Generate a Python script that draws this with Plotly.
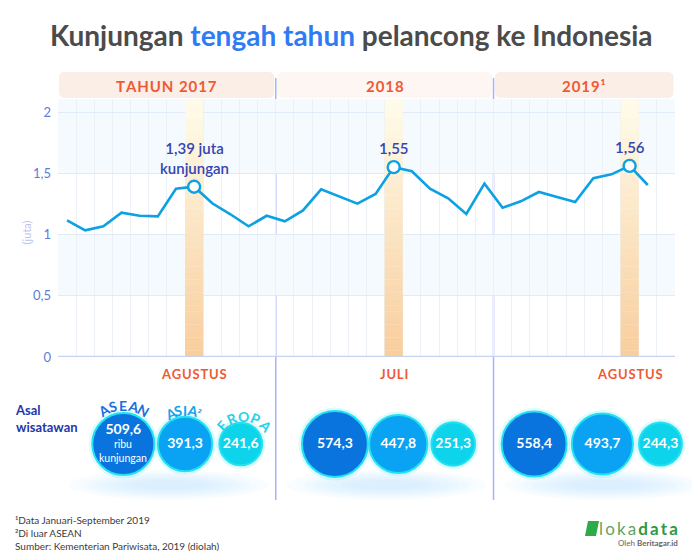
import plotly.graph_objects as go
import math

# page body has an 8px margin: size the figure so it fits the window, and map
# reference pixel positions through that offset
OX, OY = 8, 8
W, H = 684, 543

# ---------------- data ----------------
year_titles = ["TAHUN 2017", "2018", "2019¹"]
visits_2017 = [1.116, 1.034, 1.067, 1.178, 1.153, 1.148, 1.374, 1.39, 1.255, 1.165, 1.067, 1.153]
visits_2018 = [1.108, 1.197, 1.369, 1.309, 1.252, 1.331, 1.55, 1.516, 1.374, 1.295, 1.167, 1.415]
visits_2019 = [1.219, 1.271, 1.347, 1.306, 1.265, 1.459, 1.491, 1.56, 1.404]
highlight_year = [0, 1, 2]          # index into years
highlight_month = [8, 7, 8]         # month number (Agustus, Juli, Agustus)
highlight_names = ["AGUSTUS", "JULI", "AGUSTUS"]
highlight_labels = ["1,39 juta<br>kunjungan", "1,55", "1,56"]
regions = ["ASEAN", "ASIA²", "EROPA"]
asean = [509.6, 574.3, 558.4]
asia = [391.3, 447.8, 493.7]
eropa = [241.6, 251.3, 244.3]
y_tickvals = [0, 0.5, 1, 1.5, 2]
y_ticktext = ["0", "0,5", "1", "1,5", "2"]

# ---------------- helpers ----------------
def px(x):
    return (x - OX) / W

def py(y):
    return 1 - (y - OY) / H

def spaced(s, sep="\u200a"):
    return sep.join(list(s))

def fmt(v):
    return ("%.1f" % v).replace(".", ",")

visits = visits_2017 + visits_2018 + visits_2019
months_x = list(range(len(visits)))
hi_x = [12 * y + (m - 1) for y, m in zip(highlight_year, highlight_month)]
hi_y = [visits[i] for i in hi_x]

PLOT_L, PLOT_R = 58, 675
Y0_PX, YTOP_PX = 357, 99
ymax = (Y0_PX - YTOP_PX) / 122.5
col_w = (PLOT_R - PLOT_L) / 34.0
B_TOP, B_BOT = 390, 498           # bubble strip in reference pixels
b_unit = (B_BOT - B_TOP) / 2.0    # pixels per y2 unit

def xpix(xval):
    return PLOT_L + (xval + 0.5) * col_w

FONT = "Lato, 'Open Sans', sans-serif"
ORANGE = "#EE5A35"
LINE_BLUE = "#0BA1E2"

fig = go.Figure()

# main line
fig.add_trace(go.Scatter(
    x=months_x, y=visits, mode="lines",
    line=dict(color=LINE_BLUE, width=2.6),
    hoverinfo="skip", showlegend=False, xaxis="x", yaxis="y"))
# highlight markers
fig.add_trace(go.Scatter(
    x=hi_x, y=hi_y, mode="markers",
    marker=dict(size=12, color="white", line=dict(color=LINE_BLUE, width=2.4)),
    hoverinfo="skip", showlegend=False, xaxis="x", yaxis="y"))
# triangles under highlighted months
fig.add_trace(go.Scatter(
    x=hi_x, y=[-0.045] * len(hi_x), mode="markers",
    marker=dict(symbol="triangle-up", size=9, color=ORANGE),
    cliponaxis=False, hoverinfo="skip", showlegend=False, xaxis="x", yaxis="y"))

shapes = []
annotations = []

# alternating tinted bands
for y0, y1 in [(0.5, 1.0), (1.5, ymax)]:
    shapes.append(dict(type="rect", xref="x", yref="y", x0=-0.5, x1=33.5, y0=y0, y1=y1,
                       fillcolor="#F5FAFE", line=dict(width=0), layer="below"))

# gradient highlight columns
N = 40
c_top = (255, 252, 234)
c_bot = (248, 205, 156)
for hx in hi_x:
    for k in range(N):
        t = (k + 0.5) / N
        c = tuple(int(round(c_bot[j] + (c_top[j] - c_bot[j]) * t)) for j in range(3))
        shapes.append(dict(type="rect", xref="x", yref="y", x0=hx - 0.5, x1=hx + 0.5,
                           y0=ymax * k / N, y1=ymax * (k + 1) / N + 0.002,
                           fillcolor="rgb(%d,%d,%d)" % c, line=dict(width=0), layer="between"))

# zero line
shapes.append(dict(type="line", xref="x", yref="y", x0=-0.5, x1=33.5, y0=0, y1=0,
                   line=dict(color="#C7D2F0", width=2.5), layer="between"))

# year separators
for b in [11.5, 23.5]:
    shapes.append(dict(type="line", xref="x", yref="paper", x0=b, x1=b,
                       y0=py(500), y1=py(78), line=dict(color="#A9B3F5", width=1.5),
                       layer="between"))

# header rounded rectangles
def rrect(x0, y0, x1, y1, r):
    p = lambda X, Y: "%f,%f" % (px(X), py(Y))
    return ("M " + p(x0 + r, y0) + " L " + p(x1 - r, y0) + " Q " + p(x1, y0) + " " + p(x1, y0 + r) +
            " L " + p(x1, y1 - r) + " Q " + p(x1, y1) + " " + p(x1 - r, y1) +
            " L " + p(x0 + r, y1) + " Q " + p(x0, y1) + " " + p(x0, y1 - r) +
            " L " + p(x0, y0 + r) + " Q " + p(x0, y0) + " " + p(x0 + r, y0) + " Z")

header_fill = ["#FBEEE6", "#FDF6F2", "#FBEEE6"]
for i, title in enumerate(year_titles):
    xl = xpix(12 * i - 0.5) + (1 if i == 0 else 1.5)
    xr = min(xpix(12 * (i + 1) - 0.5), PLOT_R) - 1.5
    shapes.append(dict(type="path", xref="paper", yref="paper", path=rrect(xl, 72, xr, 98, 6),
                       fillcolor=header_fill[i], line=dict(width=0), layer="below"))
    annotations.append(dict(text="<b>" + spaced(title) + "</b>", xref="paper", yref="paper",
                            x=px((xl + xr) / 2), y=py(85.5), showarrow=False,
                            font=dict(family=FONT, size=15, color=ORANGE),
                            xanchor="center", yanchor="middle"))

# highlight value labels
for hx, hy, lab in zip(hi_x, hi_y, highlight_labels):
    annotations.append(dict(text=lab, xref="x", yref="y",
                            x=hx, y=hy, yshift=8, showarrow=False, yanchor="bottom",
                            font=dict(family=FONT, size=15, color="#3444B2", weight=600)))

# highlight month names
for hx, name in zip(hi_x, highlight_names):
    annotations.append(dict(text="<b>" + spaced(name) + "</b>", xref="x", yref="y",
                            x=hx, y=0, yshift=-17, showarrow=False, yanchor="middle",
                            font=dict(family=FONT, size=13, color=ORANGE)))

# title
annotations.append(dict(
    text="<b>Kunjungan <span style='color:#2F7BF5'>tengah tahun</span> pelancong ke Indonesia</b>",
    xref="paper", yref="paper", x=px(351), y=py(35), showarrow=False, yanchor="middle",
    font=dict(family=FONT, size=28, color="#4B4B4B")))

# y axis title
annotations.append(dict(text="(juta)", xref="paper", yref="paper", x=px(18), y=py(233),
                        textangle=-90, showarrow=False,
                        font=dict(family=FONT, size=11, color="#BAC5EE")))

# Asal wisatawan
annotations.append(dict(text="<b>Asal<br>wisatawan</b>", xref="paper", yref="paper",
                        x=px(13), y=py(418), xanchor="left", yanchor="middle", align="left",
                        showarrow=False, font=dict(family=FONT, size=13, color="#2536A8")))

# ---------------- bubbles ----------------
bubble_offsets = [[3.1, 6.5, 9.57], [2.76, 6.25, 9.28], [1.74, 5.5, 8.7]]
bubble_colors = ["#0A74DE", "#0AA2F2", "#0DD3EB"]
series = [asean, asia, eropa]
bx, by, bs, bc, bt, bty = [], [], [], [], [], []
for yi in range(3):
    for ri in range(3):
        v = series[ri][yi]
        bx.append(12 * yi + bubble_offsets[yi][ri])
        by.append(0)
        bs.append(2.75 * math.sqrt(v))
        bc.append(bubble_colors[ri])
        bt.append("<b>" + fmt(v) + "</b>")
        # the first bubble carries an extra unit caption below its number
        bty.append(14 / b_unit if (yi == 0 and ri == 0) else 0)

# soft glow under bubble groups
for yi in range(3):
    cxp = xpix(12 * yi + 5.6)
    for k in range(8):
        rw = 100 - k * 9
        rh = 30 - k * 3
        shapes.append(dict(type="circle", xref="paper", yref="paper",
                           x0=px(cxp - rw), x1=px(cxp + rw), y0=py(485 + rh / 2), y1=py(485 - rh / 2),
                           fillcolor="rgba(150,225,250,0.05)", line=dict(width=0), layer="below"))

fig.add_trace(go.Scatter(
    x=bx, y=by, mode="markers", xaxis="x2", yaxis="y2",
    marker=dict(size=[s + 7 for s in bs], color="rgba(40,225,245,0.22)", line=dict(width=0)),
    hoverinfo="skip", showlegend=False, cliponaxis=False))
fig.add_trace(go.Scatter(
    x=bx, y=by, mode="markers", xaxis="x2", yaxis="y2",
    marker=dict(size=bs, color=bc, line=dict(color="#22E2F2", width=2), opacity=1),
    hoverinfo="skip", showlegend=False, cliponaxis=False))
fig.add_trace(go.Scatter(
    x=bx, y=bty, mode="text", xaxis="x2", yaxis="y2",
    text=bt, textposition="middle center",
    textfont=dict(family=FONT, size=14, color="white"),
    hoverinfo="skip", showlegend=False, cliponaxis=False))
# unit caption in the first bubble
annotations.append(dict(text="ribu<br>kunjungan", xref="x2", yref="y2", x=bx[0], y=-7 / b_unit,
                        showarrow=False, xanchor="center", yanchor="middle",
                        font=dict(family=FONT, size=10.5, color="white")))

# curved region labels above 2017 bubbles
label_specs = [
    # (letters, center px x, center px y, radius, half-angle deg, color)
    (["A", "S", "E", "A", "N"], xpix(bubble_offsets[0][0]), 445, 40, 30, "#1D6FE0"),
    (["A", "S", "I", "A", "²"], xpix(bubble_offsets[0][1]), 445, 35, 24, "#12A2F0"),
    (["E", "R", "O", "P", "A"], xpix(bubble_offsets[0][2]) + 3, 445, 29, 48, "#1FD3E8"),
]
for letters, cx, cy, R, half, col in label_specs:
    n = len(letters)
    for k, ch in enumerate(letters):
        th = -half + 2 * half * k / (n - 1)
        rad = math.radians(th)
        lx = cx + R * math.sin(rad)
        ly = cy - R * math.cos(rad)
        annotations.append(dict(text="<b>" + ch + "</b>", xref="paper", yref="paper",
                                x=px(lx), y=py(ly), textangle=th, showarrow=False,
                                xanchor="center", yanchor="middle",
                                font=dict(family=FONT, size=14 if ch != "²" else 11, color=col)))

# ---------------- footer ----------------
foot = "¹Data Januari-September 2019<br>²Di luar ASEAN<br>Sumber: Kementerian Pariwisata, 2019 (diolah)"
annotations.append(dict(text=foot, xref="paper", yref="paper", x=px(13), y=py(512),
                        xanchor="left", yanchor="top", align="left", showarrow=False,
                        font=dict(family=FONT, size=10, color="#3A3A3A")))

# logo
shapes.append(dict(type="path", xref="paper", yref="paper",
                   path="M %f,%f L %f,%f L %f,%f L %f,%f Z" % (px(585), py(536), px(596), py(536),
                                                               px(599), py(521), px(588), py(521)),
                   fillcolor="#2EAA48", line=dict(width=0)))
annotations.append(dict(text="<span style='color:#5FA463'>l\u2009o\u2009k\u2009a</span>\u2009<b>d\u2009a\u2009t\u2009a</b>",
                        xref="paper", yref="paper", x=px(680), y=py(528), xanchor="right",
                        yanchor="middle", showarrow=False,
                        font=dict(family=FONT, size=17, color="#2E9A43")))
annotations.append(dict(text="Oleh <b>Beritagar.id</b>", xref="paper", yref="paper",
                        x=px(680), y=py(543), xanchor="right", yanchor="middle", showarrow=False,
                        font=dict(family=FONT, size=8, color="#666666")))

fig.update_layout(
    width=W, height=H, margin=dict(l=0, r=0, t=0, b=0, autoexpand=False),
    paper_bgcolor="white", plot_bgcolor="rgba(0,0,0,0)",
    font=dict(family=FONT),
    showlegend=False,
    xaxis=dict(domain=[px(PLOT_L), px(PLOT_R)], range=[-0.5, 33.5],
               tickvals=[i - 0.5 for i in range(35)], showticklabels=False, ticks="",
               showgrid=True, gridcolor="#ECF1F7", gridwidth=1, zeroline=False, showline=False,
               fixedrange=True, anchor="y", automargin=False),
    yaxis=dict(domain=[py(Y0_PX), py(YTOP_PX)], range=[0, ymax],
               tickvals=y_tickvals, ticktext=y_ticktext, ticks="",
               tickfont=dict(family=FONT, size=13, color="#5E7CD5"),
               showgrid=True, gridcolor="#E1EBF8", gridwidth=1.2, zeroline=False, showline=False,
               ticklabelstandoff=6, fixedrange=True, anchor="x", automargin=False),
    xaxis2=dict(domain=[px(PLOT_L), px(PLOT_R)], range=[-0.5, 33.5], visible=False,
                anchor="y2", fixedrange=True, automargin=False),
    yaxis2=dict(domain=[py(B_BOT), py(B_TOP)], range=[-1, 1], visible=False, anchor="x2",
                fixedrange=True, automargin=False),
    shapes=shapes, annotations=annotations,
)

fig.write_html("out.html")
